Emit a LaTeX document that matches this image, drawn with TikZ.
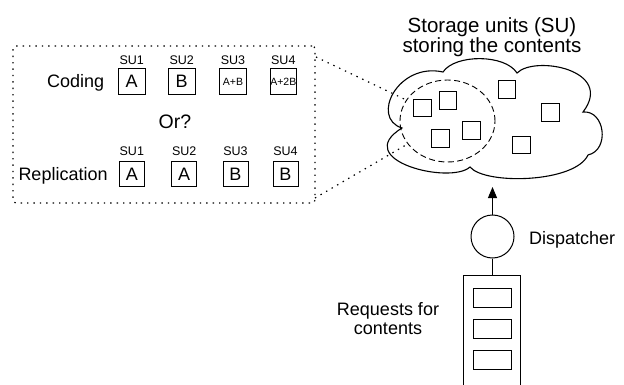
\documentclass[tikz,border=0pt]{standalone}
\usepackage{fontspec}
\setmainfont{Liberation Sans}
\usetikzlibrary{shapes.geometric,arrows.meta}
\begin{document}
\begin{tikzpicture}[x=1pt,y=-1pt,
  subox/.style={draw, line width=0.9pt, minimum width=26.5pt, minimum height=26.5pt, inner sep=0pt, font=\fontsize{18}{18}\selectfont},
  suboxb/.style={subox, minimum width=25pt, minimum height=25pt},
  small/.style={font=\fontsize{10.5}{10.5}\selectfont},
  sulabel/.style={anchor=base, inner sep=0pt, font=\fontsize{12.5}{12.5}\selectfont},
  txt/.style={inner sep=0pt, font=\fontsize{18}{19}\selectfont},
  dotline/.style={line width=1.2pt, dash pattern=on 1.4pt off 5pt},
  cu/.style={draw, line width=0.9pt, minimum width=17.5pt, minimum height=17.5pt, inner sep=0pt},
  qitem/.style={draw, line width=0.9pt, minimum width=38pt, minimum height=19pt, inner sep=0pt}
]
\useasboundingbox (0,0) rectangle (624,385);

% dotted frame
\node[draw, dotline, rounded corners=3pt, minimum width=302pt, minimum height=157pt, inner sep=0pt] (frame) at (164,124.5) {};

% coding row
\node[txt, anchor=base west] (coding) at (47,87.3) {Coding};
\node[subox] (c1) at (131.7,81.7) {A};
\node[subox] (c2) at (181.7,81.7) {B};
\node[subox, small] (c3) at (233,81.7) {A+B};
\node[subox, small] (c4) at (283.3,81.7) {A+2B};
\node[sulabel] (lc1) at (131.7,65) {SU1};
\node[sulabel] (lc2) at (181.7,65) {SU2};
\node[sulabel] (lc3) at (233,65) {SU3};
\node[sulabel] (lc4) at (283.3,65) {SU4};

\node[txt, anchor=base, font=\fontsize{19.5}{20}\selectfont] (or) at (175,128.3) {Or?};

% replication row
\node[txt, anchor=base west] (repl) at (18.3,180.5) {Replication};
\node[suboxb] (r1) at (131.8,174.2) {A};
\node[suboxb] (r2) at (184.2,174.2) {A};
\node[suboxb] (r3) at (235.5,174.2) {B};
\node[suboxb] (r4) at (285.5,174.2) {B};
\node[sulabel] (lr1) at (131.8,156) {SU1};
\node[sulabel] (lr2) at (184.2,156) {SU2};
\node[sulabel] (lr3) at (235.5,156) {SU3};
\node[sulabel] (lr4) at (285.5,156) {SU4};

% title
\node[inner sep=0pt, anchor=base, font=\fontsize{20.5}{20.5}\selectfont] (t1) at (492,32.3) {Storage units (SU)};
\node[inner sep=0pt, anchor=base, font=\fontsize{20.5}{20.5}\selectfont] (t2) at (492,52.3) {storing the contents};

% cloud
\draw[line width=1.1pt] (402,128)
  .. controls (370,118) and (398,62) .. (443,72)
  .. controls (455,54) and (505,54) .. (517,73)
  .. controls (535,55) and (615,70) .. (583,112)
  .. controls (605,110) and (610,150) .. (588,155)
  .. controls (575,183) and (485,185) .. (470,167)
  .. controls (450,185) and (350,160) .. (402,128) -- cycle;

% dashed group ellipse
\node[ellipse, draw, line width=0.9pt, dash pattern=on 6pt off 3.5pt, minimum width=95pt, minimum height=82pt, inner sep=0pt] (grp) at (447.5,121) {};

% storage unit squares
\node[cu] (s1) at (422.5,108) {};
\node[cu] (s2) at (448,100.5) {};
\node[cu] (s3) at (440.5,138.5) {};
\node[cu] (s4) at (471.5,130.5) {};
\node[cu] (s5) at (507,89.5) {};
\node[cu] (s6) at (550.5,112.5) {};
\node[cu] (s7) at (521.5,145) {};

% dotted connectors
\coordinate (fa) at (316,57);
\coordinate (fb) at (315,198);
\draw[dotline] (fa) -- (grp.153);
\draw[dotline] (fb) -- (grp.210);

% dispatcher
\node[circle, draw, line width=1pt, minimum size=43pt, inner sep=0pt] (disp) at (492.5,236.5) {};
\node[txt, anchor=base west] (displ) at (529,244) {Dispatcher};
\coordinate (arr) at (492.5,187);
\draw[line width=1pt, -{Triangle[width=9pt,length=11pt]}] (disp.north) -- (arr);

% queue
\coordinate (qbl) at (463,386);
\coordinate (qtl) at (463,275);
\coordinate (qtr) at (520,275);
\coordinate (qbr) at (520,386);
\coordinate (qtop) at (492.5,275);
\draw[line width=1pt] (qbl) -- (qtl) -- (qtr) -- (qbr);
\draw[line width=1pt] (disp.south) -- (qtop);
\node[qitem] (q1) at (492,297.5) {};
\node[qitem] (q2) at (492,328.5) {};
\node[qitem] (q3) at (492,359.5) {};

\node[txt, anchor=base] (req1) at (388,315) {Requests for};
\node[txt, anchor=base] (req2) at (388,334) {contents};
\end{tikzpicture}
\end{document}
